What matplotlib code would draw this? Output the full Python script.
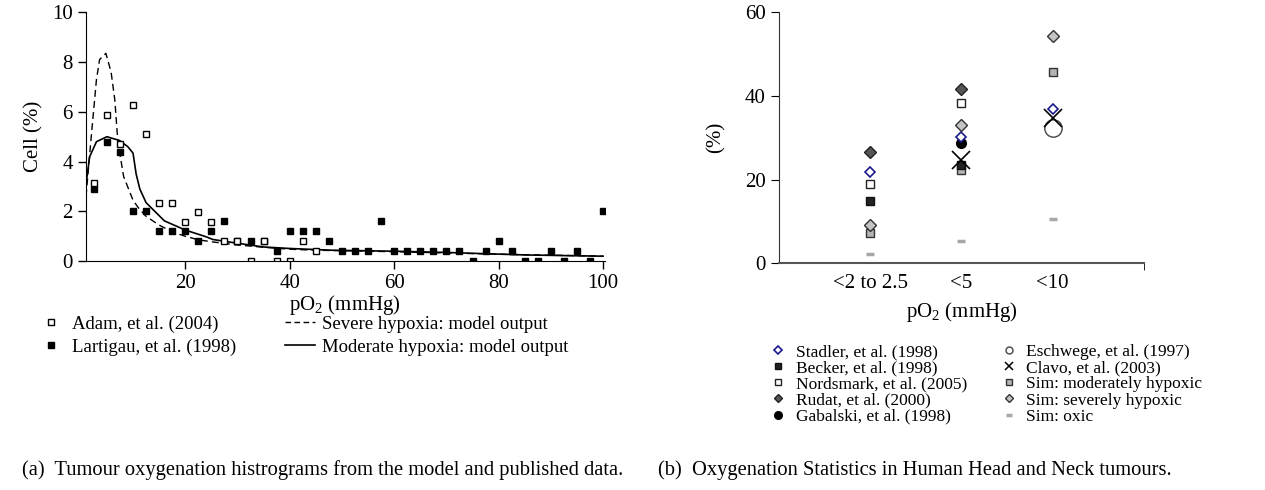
import numpy as np
import matplotlib as mpl
mpl.use('Agg')
import matplotlib.pyplot as plt
from matplotlib.lines import Line2D

mpl.rcParams['font.family'] = ['Liberation Serif', 'DejaVu Serif']
mpl.rcParams['mathtext.fontset'] = 'custom'
mpl.rcParams['mathtext.rm'] = 'Liberation Serif'
mpl.rcParams['axes.unicode_minus'] = False

# ---- panel (a): histogram data, bins of 2.5 mmHg
adam_x = [2.5, 5, 7.5, 10, 12.5, 15, 17.5, 20, 22.5, 25, 27.5, 30, 32.5, 35, 37.5, 40, 42.5, 45]
adam_y = [3.15, 5.88, 4.71, 6.28, 5.11, 2.35, 2.35, 1.57, 1.96, 1.57, 0.8, 0.8, 0.0, 0.8, 0.0, 0.0, 0.8, 0.4]

lart_x = [2.5, 5, 7.5, 10, 12.5, 15, 17.5, 20, 22.5, 25, 27.5, 30, 32.5, 35, 37.5, 40, 42.5, 45, 47.5,
          50, 52.5, 55, 57.5, 60, 62.5, 65, 67.5, 70, 72.5, 75, 77.5, 80, 82.5, 85, 87.5, 90, 92.5, 95, 97.5, 100]
lart_y = [2.9, 4.8, 4.4, 2.0, 2.0, 1.2, 1.2, 1.2, 0.8, 1.2, 1.6, 0.8, 0.8, 0.8, 0.4, 1.2, 1.2, 1.2, 0.8,
          0.4, 0.4, 0.4, 1.6, 0.4, 0.4, 0.4, 0.4, 0.4, 0.4, 0.0, 0.4, 0.8, 0.4, 0.0, 0.0, 0.4, 0.0, 0.4, 0.0, 2.0]

severe_x = [1, 2, 3, 3.6, 4.8, 5.8, 6.5, 7.1, 8.2, 10, 11, 12.5, 15, 17.5, 20, 22.5, 25, 30, 35, 40, 45,
            50, 60, 70, 80, 90, 100]
severe_y = [2.6, 5.0, 7.3, 8.1, 8.35, 7.6, 6.5, 4.8, 3.4, 2.45, 2.15, 1.8, 1.45, 1.18, 1.0, 0.86, 0.78, 0.65,
            0.56, 0.48, 0.44, 0.42, 0.38, 0.33, 0.28, 0.24, 0.2]

moderate_x = [1, 1.7, 3, 5, 7.4, 9, 10, 10.6, 11.3, 12.5, 16, 20, 24, 25.3, 30, 35, 40, 48, 60, 70, 85, 100]
moderate_y = [3.1, 4.2, 4.8, 5.0, 4.85, 4.6, 4.34, 3.5, 2.9, 2.35, 1.62, 1.25, 0.98, 0.87, 0.72, 0.57, 0.51,
              0.44, 0.4, 0.35, 0.25, 0.2]

# ---- panel (b): oxygenation statistics
cats = ['<2 to 2.5', '<5', '<10']
stadler = [21.9, 30.2, 36.9]
becker = [14.9, 23.5, None]
nordsmark = [19.0, 38.2, None]
rudat = [26.7, 41.6, None]
gabalski = [None, 28.8, None]
eschwege = [None, None, 32.4]
clavo = [None, 24.7, 34.7]
sim_mod = [7.3, 22.2, 45.8]
sim_sev = [9.1, 33.1, 54.4]
sim_oxic = [2.15, 5.3, 10.5]

fig = plt.figure(figsize=(12.65, 4.9), dpi=100, facecolor='w')

# ===================== panel (a)
ax1 = fig.add_axes([0.068, 0.467, 0.410, 0.508])
ax1.plot(severe_x, severe_y, color='k', ls=(0, (5, 3)), lw=1.0)
ax1.plot(moderate_x, moderate_y, color='k', ls='-', lw=1.2)
ax1.plot(lart_x, lart_y, ls='none', marker='s', ms=4.7, mfc='k', mec='k')
ax1.plot(adam_x, adam_y, ls='none', marker='s', ms=4.0, mfc='w', mec='k', mew=1.0)
ax1.set_xlim(1, 100.3)
ax1.set_ylim(0, 10)
ax1.set_xticks([20, 40, 60, 80, 100])
ax1.set_yticks([0, 2, 4, 6, 8, 10])
for s in ['top', 'right']:
    ax1.spines[s].set_visible(False)
ax1.tick_params(direction='out', length=6, width=1, labelsize=15)
ax1.set_xlabel(r'pO$_{\mathregular{2}}$ (mmHg)', fontsize=15, labelpad=0)
ax1.set_ylabel('Cell (%)', fontsize=15, labelpad=6)

h_a = [Line2D([], [], ls='none', marker='s', ms=4, mfc='w', mec='k'),
       Line2D([], [], ls='none', marker='s', ms=4.7, mfc='k', mec='k'),
       Line2D([], [], color='k', ls=(0, (4, 2.5)), lw=1.0),
       Line2D([], [], color='k', ls='-', lw=1.2)]
l_a = ['Adam, et al. (2004)', 'Lartigau, et al. (1998)',
       'Severe hypoxia: model output', 'Moderate hypoxia: model output']
fig.legend(h_a, l_a, loc='upper left', bbox_to_anchor=(0.015, 0.39), ncol=2, frameon=False,
           fontsize=13.5, handlelength=1.6, columnspacing=2.6, labelspacing=0.3, handletextpad=0.35)

# ===================== panel (b)
ax2 = fig.add_axes([0.6158, 0.4627, 0.2885, 0.5122])
xs = np.arange(1, len(cats) + 1)


def pts(vals):
    x = [xi for xi, v in zip(xs, vals) if v is not None]
    y = [v for v in vals if v is not None]
    return x, y


st = dict(ls='none')
ax2.plot(*pts(sim_oxic), marker='_', ms=6, mew=2.5, color='#a8a8a8', **st)
ax2.plot(*pts(sim_mod), marker='s', ms=6, mfc='#b4b4b4', mec='#333333', mew=1.0, **st)
ax2.plot(*pts(becker), marker='s', ms=6, mfc='#222222', mec='#111111', **st)
ax2.plot(*pts(eschwege), marker='o', ms=12.5, mfc='w', mec='#444444', mew=1.0, **st)
ax2.plot(*pts(clavo), marker='x', ms=13.5, color='k', mew=1.2, **st)
ax2.plot(*pts(gabalski), marker='o', ms=7, mfc='k', mec='k', **st)
ax2.plot(*pts(stadler), marker='D', ms=5.3, mfc='w', mec='#1a1a8c', mew=1.2, **st)
ax2.plot(*pts(sim_sev), marker='D', ms=6, mfc='#c4c4c4', mec='#333333', mew=1.0, **st)
ax2.plot(*pts(nordsmark), marker='s', ms=6, mfc='w', mec='#222222', mew=1.0, **st)
ax2.plot(*pts(rudat), marker='D', ms=6, mfc='#555555', mec='#222222', mew=1.0, **st)

ax2.set_xlim(0, 4)
ax2.set_ylim(0, 60)
ax2.set_xticks(xs)
ax2.set_xticklabels(cats)
ax2.set_xticks([4], minor=True)
ax2.set_yticks([0, 20, 40, 60])
for s in ['top', 'right']:
    ax2.spines[s].set_visible(False)
ax2.spines['bottom'].set_color('#555555')
ax2.spines['bottom'].set_linewidth(1.5)
ax2.spines['left'].set_color('#333333')
ax2.tick_params(axis='x', which='major', length=0, labelsize=15, pad=8)
ax2.tick_params(axis='x', which='minor', length=5, direction='out')
ax2.tick_params(axis='y', direction='out', length=6, labelsize=15)
ax2.set_xlabel(r'pO$_{\mathregular{2}}$ (mmHg)', fontsize=15, labelpad=5)
ax2.set_ylabel('(%)', fontsize=15, labelpad=14)

h_b = [Line2D([], [], ls='none', marker='D', ms=4.5, mfc='w', mec='#1a1a8c', mew=1.2),
       Line2D([], [], ls='none', marker='s', ms=5, mfc='#222222', mec='#111111'),
       Line2D([], [], ls='none', marker='s', ms=5, mfc='w', mec='#222222'),
       Line2D([], [], ls='none', marker='D', ms=4.5, mfc='#555555', mec='#222222'),
       Line2D([], [], ls='none', marker='o', ms=5.5, mfc='k', mec='k'),
       Line2D([], [], ls='none', marker='o', ms=5, mfc='w', mec='#444444'),
       Line2D([], [], ls='none', marker='x', ms=5.5, color='k', mew=1.1),
       Line2D([], [], ls='none', marker='s', ms=5, mfc='#b4b4b4', mec='#333333'),
       Line2D([], [], ls='none', marker='D', ms=4.5, mfc='#c4c4c4', mec='#333333'),
       Line2D([], [], ls='none', marker='_', ms=5, mew=2.5, color='#a8a8a8')]
l_b = ['Stadler, et al. (1998)', 'Becker, et al. (1998)', 'Nordsmark, et al. (2005)',
       'Rudat, et al. (2000)', 'Gabalski, et al. (1998)', 'Eschwege, et al. (1997)',
       'Clavo, et al. (2003)', 'Sim: moderately hypoxic', 'Sim: severely hypoxic', 'Sim: oxic']
fig.legend(h_b, l_b, loc='upper left', bbox_to_anchor=(0.596, 0.33), ncol=2, frameon=False,
           fontsize=12.5, handlelength=1.0, columnspacing=1.9, labelspacing=0.0, handletextpad=0.5)

fig.text(0.0174, 0.04, '(a)  Tumour oxygenation histrograms from the model and published data.',
         fontsize=14.8, ha='left', va='center')
fig.text(0.52, 0.04, '(b)  Oxygenation Statistics in Human Head and Neck tumours.',
         fontsize=14.8, ha='left', va='center')

fig.savefig('out.png', dpi=100, facecolor='w')
